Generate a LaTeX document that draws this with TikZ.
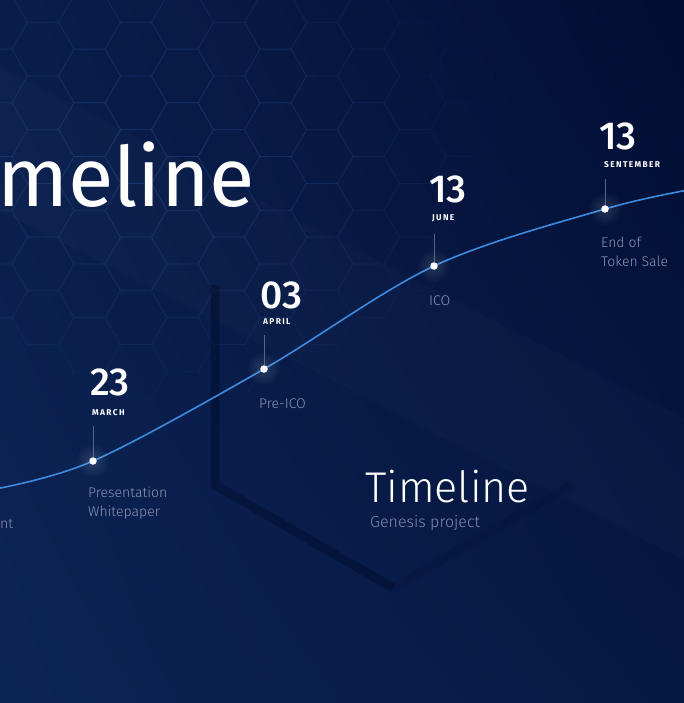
\documentclass[tikz,border=0pt]{standalone}
\usepackage{fontspec}
\usetikzlibrary{shadings}
\setmainfont{Fira Sans}
\newfontfamily\lightfont{Fira Sans Light}
\newfontfamily\datefont{Fira Sans Medium}
\newfontfamily\monthfont{Fira Sans}[LetterSpace=16]

\definecolor{bgdark}{HTML}{020E33}
\definecolor{bglight}{HTML}{0C2455}
\definecolor{bgtopleft}{HTML}{0A1E4C}
\definecolor{bgbotright}{HTML}{061944}
\definecolor{curveblue}{HTML}{3D8BE0}
\definecolor{labelgrey}{HTML}{8A95B5}
\definecolor{subgrey}{HTML}{7E8BAD}
\definecolor{stubgrey}{HTML}{56648A}
\definecolor{hexcol}{HTML}{2C5394}
\definecolor{hexshadow}{HTML}{020B28}

\begin{document}
\begin{tikzpicture}[x=1pt, y=-1pt,
    datenum/.style={text=white, font=\datefont\fontsize{39}{39}\selectfont, inner sep=0pt, anchor=base west},
    monthname/.style={text=white, font=\monthfont\bfseries\fontsize{8.4}{10}\selectfont, inner sep=0pt, anchor=base west},
    stage/.style={text=labelgrey, font=\lightfont\fontsize{14}{19}\selectfont, inner sep=0pt, anchor=base west, align=left},
    dot/.style={circle, fill=white, inner sep=0pt, minimum size=7.5pt},
    stub/.style={stubgrey, line width=0.7pt, shorten >=11pt},
    curve/.style={curveblue, line width=1.6pt},
    hexline/.style={hexcol, line width=0.8pt}]

    % background
    \useasboundingbox (0,0) rectangle (684,703);
    \shade[upper left=bgtopleft, upper right=bgdark, lower left=bglight, lower right=bgbotright] (0,0) rectangle (684,703);
    \fill[white, opacity=0.015] (0,67) -- (684,418) -- (684,560) -- (0,211) -- cycle;

    % faint hex grid
    \foreach \i in {-5,...,9} {
        \foreach \j in {-2,...,8} {
            \pgfmathsetmacro{\cx}{182.5+46.5*\i}
            \pgfmathsetmacro{\cy}{76+53.7*\j+26.85*mod(abs(\i),2)}
            \pgfmathsetmacro{\fade}{max(0,1-veclen((\cx-150)/1.3,\cy-150)/290)}
            \draw[hexline, opacity=0.3*\fade] (\cx,\cy) +(0:31pt) -- +(60:31pt) -- +(120:31pt)
                -- +(180:31pt) -- +(240:31pt) -- +(300:31pt) -- cycle;
        }
    }

    % big hexagon shadow
    \coordinate (hA) at (215,285);
    \coordinate (hB) at (215,485);
    \coordinate (hC) at (393,588);
    \coordinate (hD) at (571,485);
    \draw[hexshadow, line width=9pt, line join=round, opacity=0.45] (hA) -- (hB) -- (hC);
    \draw[hexshadow, line width=9pt, opacity=0.15] (hC) -- (hD);

    % big title
    \node[text=white, font=\fontsize{83}{83}\selectfont, inner sep=0pt, anchor=base west] (bigtitle) at (-3,207) {meline};

    % milestones
    \coordinate (dot1) at (93,461);
    \coordinate (dot2) at (264,369);
    \coordinate (dot3) at (434,266);
    \coordinate (dot4) at (605,209);

    \draw[curve] plot[smooth, tension=0.55] coordinates {(-10,490) (dot1) (dot2) (dot3) (dot4) (694,189)};

    \foreach \d in {dot1,dot2,dot3,dot4} {
        \foreach \r in {6,8,...,16}
            \fill[white, opacity=0.02] (\d) circle (\r pt);
    }
    \node[dot] (p1) at (dot1) {};
    \node[dot] (p2) at (dot2) {};
    \node[dot] (p3) at (dot3) {};
    \node[dot] (p4) at (dot4) {};

    \node[datenum] (n1) at (90,395) {23};
    \node[datenum] (n2) at (260,308) {03};
    \node[datenum] (n3) at (429,203) {13};
    \node[datenum] (n4) at (599,150) {13};

    \node[monthname] (m1) at (92,415) {MARCH};
    \node[monthname] (m2) at (263,324) {APRIL};
    \node[monthname] (m3) at (432,221) {JUNE};
    \node[monthname] (m4) at (604,168) {SENTEMBER};

    \draw[stub] (p1) -- (p1 |- m1.south);
    \draw[stub] (p2) -- (p2 |- m2.south);
    \draw[stub] (p3) -- (p3 |- m3.south);
    \draw[stub] (p4) -- (p4 |- m4.south);

    % base anchor sits on the last line
    \node[stage] (s0) at (0,528) {nt};
    \node[stage] (s1) at (88,516) {Presentation\\Whitepaper};
    \node[stage] (s2) at (259,408) {Pre-ICO};
    \node[stage] (s3) at (429,305) {ICO};
    \node[stage] (s4) at (601,266) {End of\\Token Sale};

    % bottom title
    \node[text=white, font=\lightfont\fontsize{43}{43}\selectfont, inner sep=0pt, anchor=base west] (title) at (365,502) {Timeline};
    \node[text=subgrey, font=\lightfont\fontsize{16}{16}\selectfont, inner sep=0pt, anchor=base west] (subtitle) at (370,527) {Genesis project};
\end{tikzpicture}
\end{document}
